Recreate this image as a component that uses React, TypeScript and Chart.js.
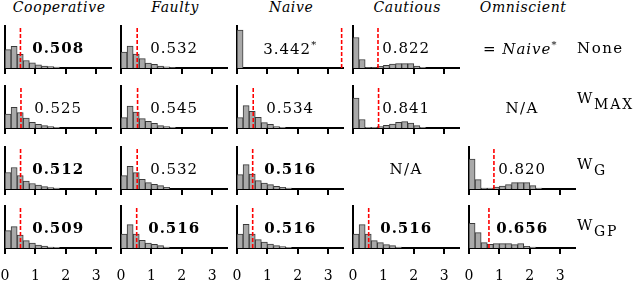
import React, { useEffect, useRef } from "react";
import { Chart, registerables } from "chart.js";

Chart.register(...registerables);

// ---------------- data ----------------
const METHODS = ["Cooperative", "Faulty", "Naive", "Cautious", "Omniscient"];
const SETTING_MAIN = ["None", "W", "W", "W"];
const SETTING_SUB = ["", "MAX", "G", "GP"];
const BIN_CENTERS = [0.1, 0.3, 0.5, 0.7, 0.9, 1.1, 1.3, 1.5, 1.7, 1.9, 2.1, 2.3];
const X_TICKS = [0, 1, 2, 3];
const X_MAX = 3.5;
const Y_MAX = 42;

const NONE_COOPERATIVE = [18.3, 21.7, 13.7, 7.5, 5.2, 3.2, 2.0, 1.3, 0.8];
const NONE_FAULTY = [16.0, 22.0, 14.0, 9.3, 5.0, 3.7, 2.0, 1.2, 0.5];
const NONE_NAIVE = [38.0];
const NONE_CAUTIOUS = [30.5, 8.5, 0.5, 0.5, 1.7, 2.7, 4.0, 4.3, 4.3, 4.3, 2.0, 0.7];
const WMAX_COOPERATIVE = [14.0, 20.7, 15.3, 10.0, 5.7, 3.7, 2.3, 1.3, 0.7];
const WMAX_FAULTY = [10.3, 22.0, 16.0, 9.3, 6.7, 4.7, 2.3, 1.3, 0.7];
const WMAX_NAIVE = [10.3, 22.3, 16.7, 10.7, 5.3, 3.7, 1.3, 0.7];
const WMAX_CAUTIOUS = [30.0, 8.5, 0.7, 0.7, 1.3, 2.7, 4.0, 5.7, 6.3, 5.0, 2.3, 0.7];
const WG_COOPERATIVE = [16.5, 21.5, 13.5, 8.0, 5.5, 3.8, 2.3, 1.5, 0.8];
const WG_FAULTY = [13.3, 22.7, 16.3, 9.7, 6.3, 4.7, 3.3, 1.7];
const WG_NAIVE = [14.3, 24.3, 15.0, 8.3, 6.0, 4.3, 2.7, 1.7, 1.0];
const WG_OMNISCIENT = [30.0, 9.3, 1.0, 1.0, 2.0, 3.0, 4.3, 6.3, 6.3, 6.3, 3.3, 1.0];
const WGP_COOPERATIVE = [17.3, 21.3, 13.0, 7.3, 5.0, 3.0, 2.0, 1.0, 0.7];
const WGP_FAULTY = [14.0, 23.3, 14.0, 7.7, 5.0, 3.7, 2.3, 1.0];
const WGP_NAIVE = [14.0, 23.7, 14.0, 8.3, 6.0, 4.0, 2.3, 1.3, 0.7];
const WGP_CAUTIOUS = [14.0, 23.3, 14.0, 7.3, 5.3, 3.3, 2.3, 1.0];
const WGP_OMNISCIENT = [24.7, 15.3, 5.3, 3.7, 4.3, 4.3, 4.3, 3.3, 4.3, 1.7, 1.0];

const NONE_MEANS = [0.508, 0.532, 3.442, 0.822, null];
const WMAX_MEANS = [0.525, 0.545, 0.534, 0.841, null];
const WG_MEANS = [0.512, 0.532, 0.516, null, 0.82];
const WGP_MEANS = [0.509, 0.516, 0.516, 0.516, 0.656];

const NONE_BOLD = [true, false, false, false, false];
const WMAX_BOLD = [false, false, false, false, false];
const WG_BOLD = [true, false, true, false, false];
const WGP_BOLD = [true, true, true, true, true];

const ROW_HISTS = [
  [NONE_COOPERATIVE, NONE_FAULTY, NONE_NAIVE, NONE_CAUTIOUS, null],
  [WMAX_COOPERATIVE, WMAX_FAULTY, WMAX_NAIVE, WMAX_CAUTIOUS, null],
  [WG_COOPERATIVE, WG_FAULTY, WG_NAIVE, null, WG_OMNISCIENT],
  [WGP_COOPERATIVE, WGP_FAULTY, WGP_NAIVE, WGP_CAUTIOUS, WGP_OMNISCIENT],
];
const ROW_MEANS = [NONE_MEANS, WMAX_MEANS, WG_MEANS, WGP_MEANS];
const ROW_BOLD = [NONE_BOLD, WMAX_BOLD, WG_BOLD, WGP_BOLD];

// ---------------- layout ----------------
const W = 640;
const H = 282;
const COL_X0 = [5, 121, 237, 353, 469];
const ROW_TOP = [26, 86, 147, 206];
const AXIS_H = 42;
const AXIS_W = 106.4;
const PAD_L = 26;
const PAD_T = 4;
const CANVAS_W = 159;
const PAD_R = CANVAS_W - PAD_L - AXIS_W;
const SERIF = "'DejaVu Serif', serif";

function PanelCanvas({ hist, mean, bottom }: { hist: number[]; mean: number; bottom: boolean }) {
  const ref = useRef<HTMLCanvasElement>(null);
  const xAxisH = bottom ? 40 : 8;
  useEffect(() => {
    const chart = new Chart(ref.current!, {
      type: "bar",
      data: {
        datasets: [
          {
            type: "line",
            data: [
              { x: mean, y: 0 },
              { x: mean, y: Y_MAX },
            ],
            borderColor: "#ff0000",
            borderWidth: 1.6,
            borderDash: [4, 2],
            pointRadius: 0,
            order: 0,
          } as any,
          {
            type: "bar",
            data: BIN_CENTERS.map((c, i) => ({ x: c, y: hist[i] ?? 0 })),
            backgroundColor: "#a9a9a9",
            borderColor: "#3a3a3a",
            borderWidth: 1,
            barPercentage: 1,
            categoryPercentage: 1,
            order: 1,
          } as any,
        ],
      },
      options: {
        animation: false,
        responsive: false,
        devicePixelRatio: 1,
        events: [],
        layout: { padding: { left: PAD_L, right: PAD_R, top: PAD_T, bottom: 0 } },
        plugins: { legend: { display: false }, tooltip: { enabled: false } },
        scales: {
          x: {
            type: "linear",
            min: 0,
            max: X_MAX,
            offset: false,
            afterBuildTicks: (s: any) => {
              s.ticks = X_TICKS.map((v) => ({ value: v }));
            },
            ticks: {
              display: bottom,
              color: "#000",
              padding: 14,
              maxRotation: 0,
              autoSkip: false,
              font: { family: SERIF, size: 14 },
            },
            grid: {
              display: true,
              offset: false,
              drawOnChartArea: false,
              drawTicks: true,
              tickLength: 6,
              color: "#000",
              lineWidth: 2,
            },
            border: { display: true, color: "#000", width: 2 },
            afterFit: (s: any) => {
              s.height = xAxisH;
            },
          },
          y: {
            min: 0,
            max: Y_MAX,
            ticks: { display: false },
            grid: { display: false, drawTicks: false },
            border: { display: true, color: "#000", width: 2 },
            afterFit: (s: any) => {
              s.width = 0;
            },
          },
        },
      } as any,
    });
    return () => chart.destroy();
  }, [hist, mean, bottom]);
  const h = PAD_T + AXIS_H + xAxisH;
  return <canvas ref={ref} width={CANVAS_W} height={h} style={{ display: "block", width: CANVAS_W, height: h }} />;
}

function Text({ x, y, children, style }: { x: number; y: number; children: any; style?: any }) {
  return (
    <div
      style={{
        position: "absolute",
        left: x,
        top: y,
        transform: "translate(-50%, -50%)",
        whiteSpace: "nowrap",
        lineHeight: 1,
        fontFamily: SERIF,
        color: "#000",
        ...style,
      }}
    >
      {children}
    </div>
  );
}

const ROW_LABEL_Y = [48, 98, 164, 225];

export default function App() {
  const items: any[] = [];
  METHODS.forEach((m, c) => {
    items.push(
      <Text key={"t" + c} x={COL_X0[c] + AXIS_W / 2 + 1} y={7} style={{ fontStyle: "italic", fontSize: 14, letterSpacing: 0.6 }}>
        {m}
      </Text>
    );
  });
  ROW_HISTS.forEach((rowH, r) => {
    rowH.forEach((hist, c) => {
      const mean = ROW_MEANS[r][c];
      const cx = COL_X0[c] + AXIS_W / 2;
      const cy = ROW_TOP[r] + AXIS_H / 2 + 0.5;
      if (hist && mean !== null) {
        items.push(
          <div key={`p${r}-${c}`} style={{ position: "absolute", left: COL_X0[c] - PAD_L, top: ROW_TOP[r] - PAD_T }}>
            <PanelCanvas hist={hist} mean={mean} bottom={r === ROW_HISTS.length - 1} />
          </div>
        );
        const star = mean > X_MAX - 0.1;
        items.push(
          <Text
            key={`v${r}-${c}`}
            x={cx}
            y={cy}
            style={{ fontSize: 15, letterSpacing: 1, fontWeight: ROW_BOLD[r][c] ? "bold" : "normal" }}
          >
            {mean.toFixed(3)}
            {star ? <sup style={{ fontSize: 10, verticalAlign: "6px" }}>*</sup> : null}
          </Text>
        );
      } else if (r === 0) {
        items.push(
          <Text key={`v${r}-${c}`} x={cx - 2} y={cy} style={{ fontSize: 15, letterSpacing: 1 }}>
            = <i>Naive</i>
            <sup style={{ fontSize: 10, verticalAlign: "6px" }}>*</sup>
          </Text>
        );
      } else {
        items.push(
          <Text key={`v${r}-${c}`} x={cx} y={cy} style={{ fontSize: 15, letterSpacing: 1.5 }}>
            N/A
          </Text>
        );
      }
    });
    items.push(
      <div
        key={"r" + r}
        style={{
          position: "absolute",
          left: 577,
          top: ROW_LABEL_Y[r],
          transform: "translateY(-50%)",
          whiteSpace: "nowrap",
          lineHeight: 1,
          fontFamily: SERIF,
          fontSize: 15,
          letterSpacing: 1.5,
          color: "#000",
        }}
      >
        {SETTING_MAIN[r]}
        {SETTING_SUB[r] ? (
          <span style={{ position: "relative", top: 6, fontSize: 14, letterSpacing: 2 }}>{SETTING_SUB[r]}</span>
        ) : null}
      </div>
    );
  });
  return (
    <div
      style={{
        position: "absolute",
        left: 0,
        top: 0,
        width: W,
        height: H,
        overflow: "hidden",
        background: "#fff",
      }}
    >
      {items}
    </div>
  );
}
